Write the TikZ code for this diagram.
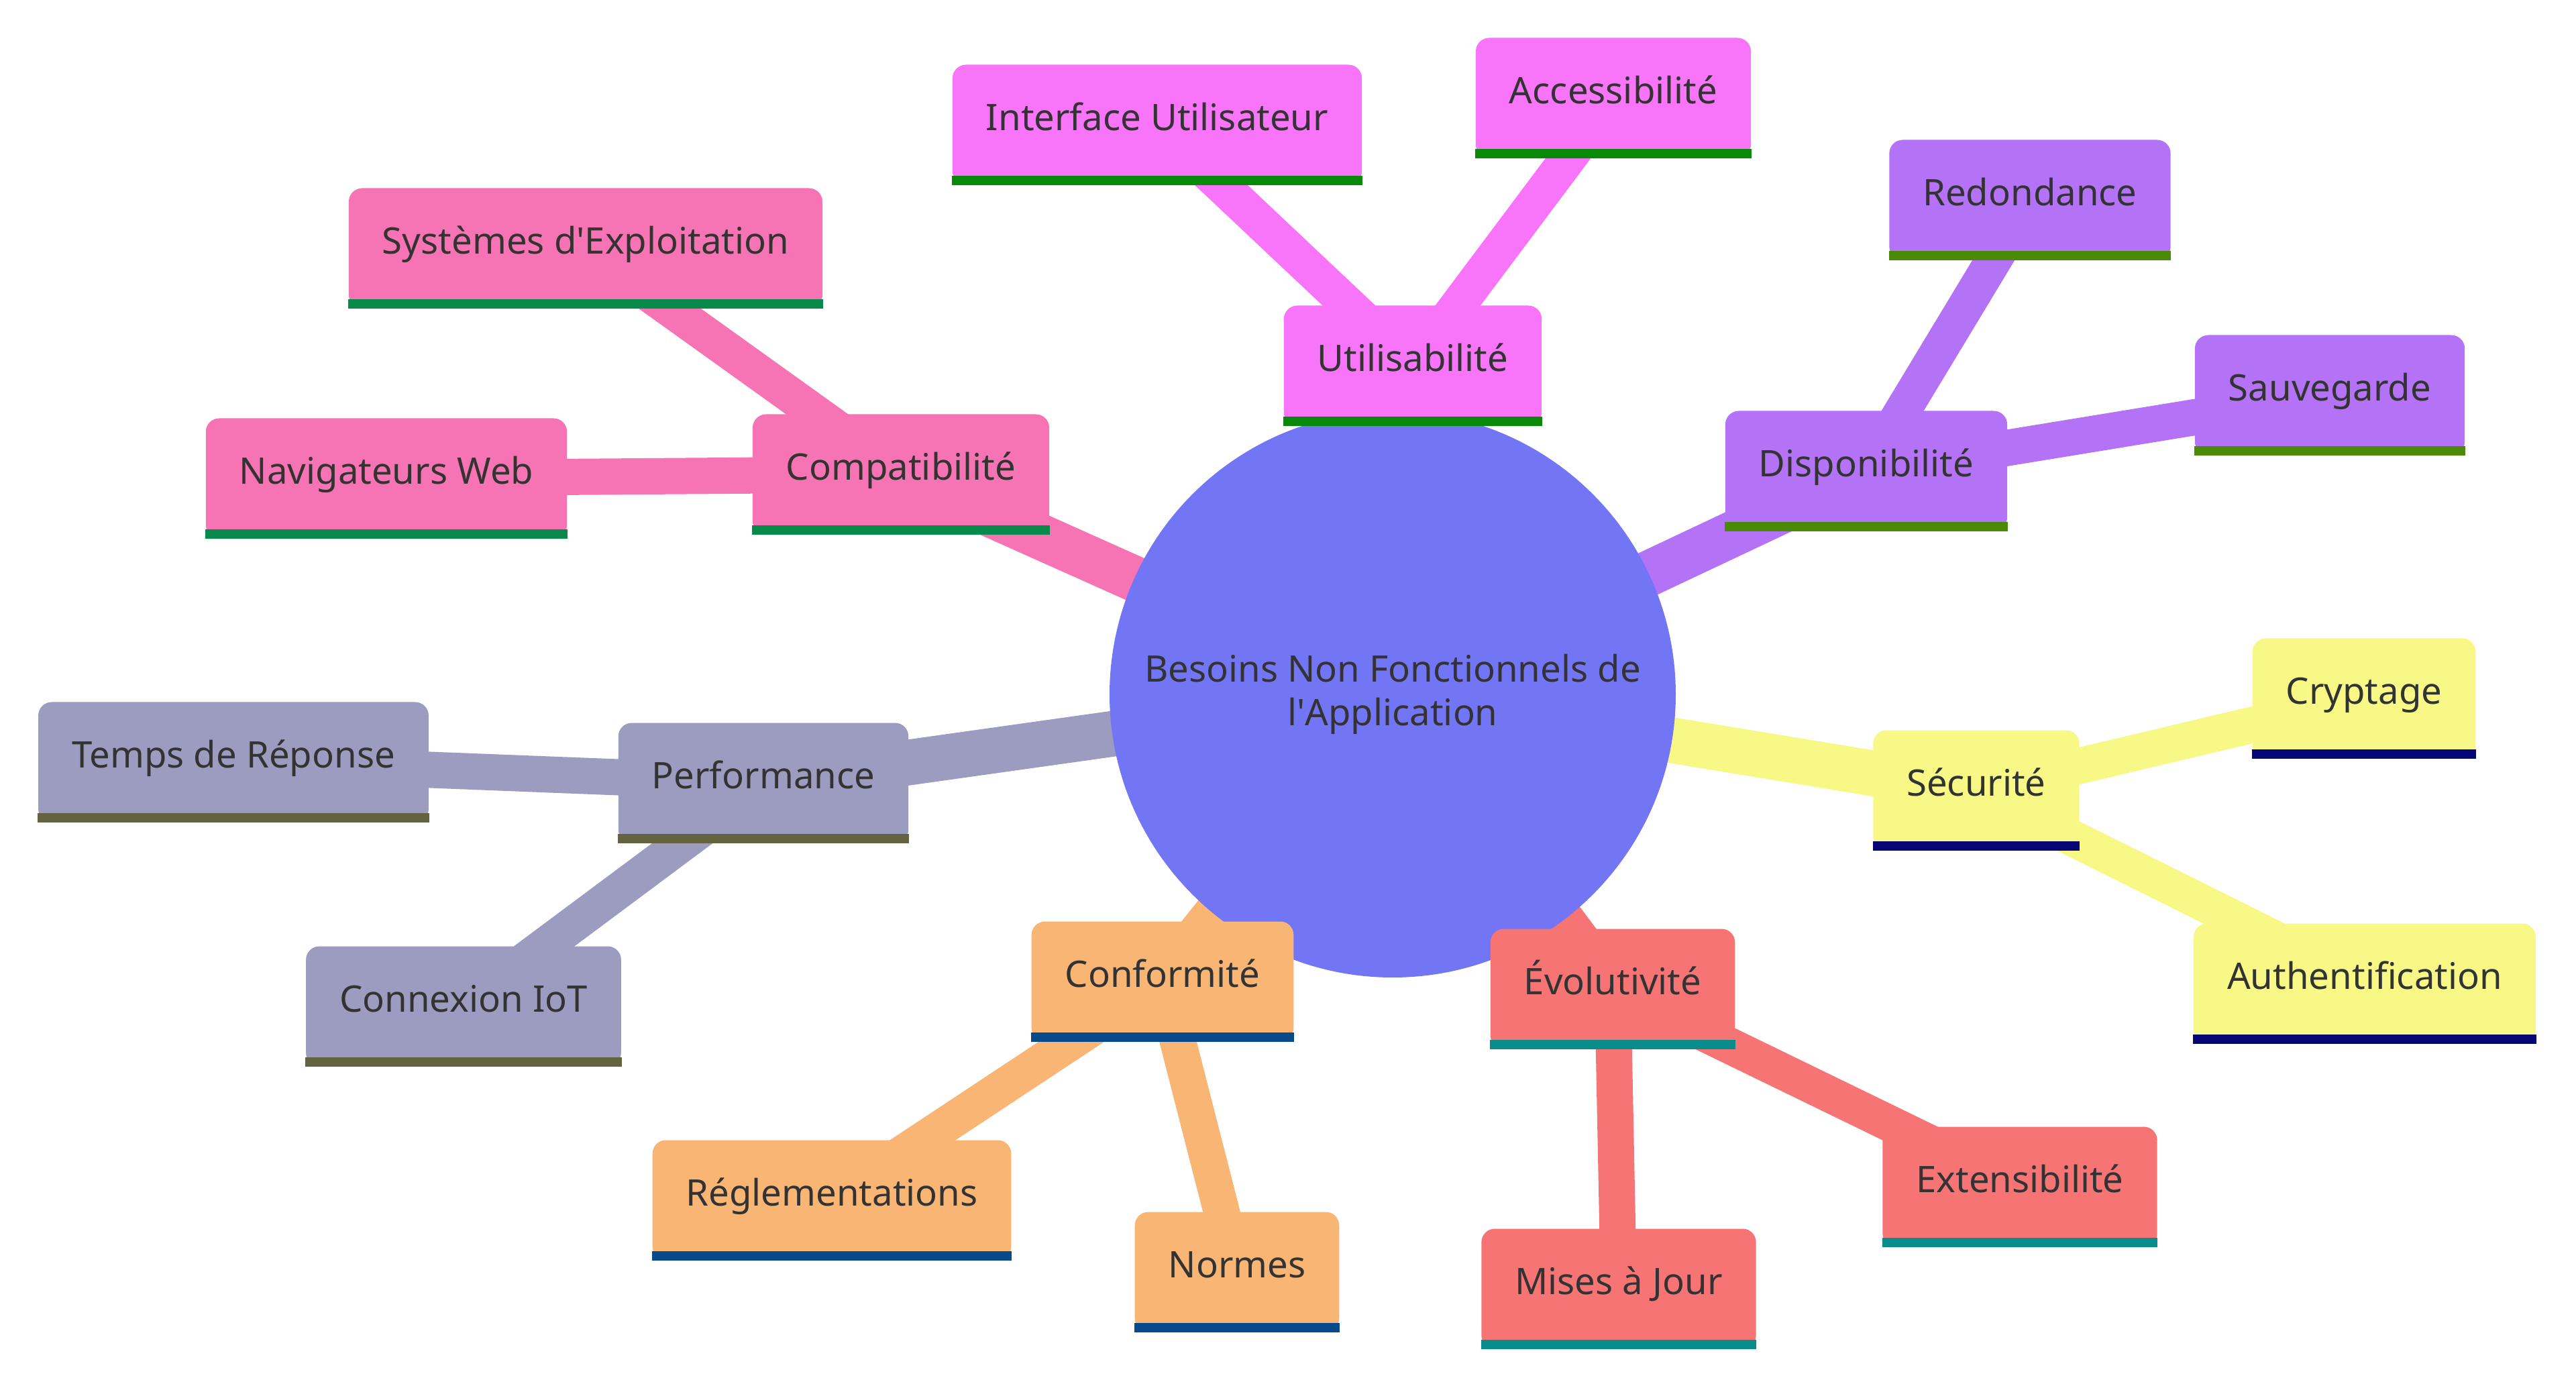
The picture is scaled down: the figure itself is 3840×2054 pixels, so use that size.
\documentclass[tikz,border=0pt]{standalone}
\usepackage{fontspec}
\setmainfont{Noto Sans}
\usetikzlibrary{backgrounds}

\definecolor{txt}{RGB}{51,51,51}
\definecolor{rootcol}{RGB}{114,118,245}
\definecolor{magA}{RGB}{248,116,248}
\definecolor{magB}{RGB}{8,138,8}
\definecolor{pinkA}{RGB}{247,116,180}
\definecolor{pinkB}{RGB}{8,138,74}
\definecolor{purA}{RGB}{180,115,247}
\definecolor{purB}{RGB}{75,138,8}
\definecolor{yelA}{RGB}{247,248,134}
\definecolor{yelB}{RGB}{6,6,117}
\definecolor{redA}{RGB}{247,116,116}
\definecolor{redB}{RGB}{8,140,140}
\definecolor{orA}{RGB}{248,181,116}
\definecolor{orB}{RGB}{7,74,140}
\definecolor{grayA}{RGB}{156,156,192}
\definecolor{grayB}{RGB}{99,99,64}

\begin{document}
\begin{tikzpicture}[x=0.1mm,y=-0.1mm,
    every node/.style={font=\fontsize{15.5}{18.5}\selectfont, text=txt},
    box/.style={fill=#1, rounded corners=2mm, inner xsep=5mm, inner ysep=0pt,
      text height=9.8mm, text depth=8.1mm},
    trunk/.style={draw=#1, line width=6.8mm},
    twig/.style={draw=#1, line width=5.4mm}]
  \useasboundingbox (0,0) rectangle (3840,2054);

  % centre
  \node[circle, fill=rootcol, minimum size=84.4mm, align=center] (root) at (2076,1035)
    {Besoins Non Fonctionnels de\\l\textquotesingle Application};

  % branches
  \node[box=magA] (usab) at (2106,545) {Utilisabilité};
  \node[box=magA] (ui) at (1725,186) {Interface Utilisateur};
  \node[box=magA] (acces) at (2405,146) {Accessibilité};

  \node[box=pinkA] (compat) at (1343,707) {Compatibilité};
  \node[box=pinkA] (os) at (873,370) {Systèmes d\textquotesingle Exploitation};
  \node[box=pinkA] (nav) at (576,713) {Navigateurs Web};

  \node[box=purA] (dispo) at (2782,702) {Disponibilité};
  \node[box=purA] (redond) at (3026,298) {Redondance};
  \node[box=purA] (sauv) at (3473,589) {Sauvegarde};

  \node[box=grayA] (perf) at (1138,1167) {Performance};
  \node[box=grayA] (temps) at (348,1136) {Temps de Réponse};
  \node[box=grayA] (iot) at (691,1500) {Connexion IoT};

  \node[box=yelA] (secu) at (2946,1178) {Sécurité};
  \node[box=yelA] (crypt) at (3524,1041) {Cryptage};
  \node[box=yelA] (auth) at (3525,1466) {Authentification};

  \node[box=orA] (conf) at (1733,1463) {Conformité};
  \node[box=orA] (regl) at (1240,1789) {Réglementations};
  \node[box=orA] (normes) at (1844,1896) {Normes};

  \node[box=redA] (evol) at (2404,1474) {Évolutivité};
  \node[box=redA] (maj) at (2413,1921) {Mises à Jour};
  \node[box=redA] (ext) at (3011,1769) {Extensibilité};

  % underlines
  \foreach \n/\c in {usab/magB, ui/magB, acces/magB, compat/pinkB, os/pinkB, nav/pinkB,
      dispo/purB, redond/purB, sauv/purB, perf/grayB, temps/grayB, iot/grayB,
      secu/yelB, crypt/yelB, auth/yelB, conf/orB, regl/orB, normes/orB,
      evol/redB, maj/redB, ext/redB}
    \fill[\c] (\n.south west) rectangle ([yshift=1.4mm]\n.south east);

  % edges
  \begin{scope}[on background layer]
    \foreach \s/\c in {usab/magA, compat/pinkA, dispo/purA, perf/grayA,
        secu/yelA, conf/orA, evol/redA}
      \draw[trunk=\c] (root.center) -- (\s.center);
    \foreach \a/\b/\c in {usab/ui/magA, usab/acces/magA, compat/os/pinkA, compat/nav/pinkA,
        dispo/redond/purA, dispo/sauv/purA, perf/temps/grayA, perf/iot/grayA,
        secu/crypt/yelA, secu/auth/yelA, conf/regl/orA, conf/normes/orA,
        evol/maj/redA, evol/ext/redA}
      \draw[twig=\c] (\a.center) -- (\b.center);
  \end{scope}
\end{tikzpicture}
\end{document}
